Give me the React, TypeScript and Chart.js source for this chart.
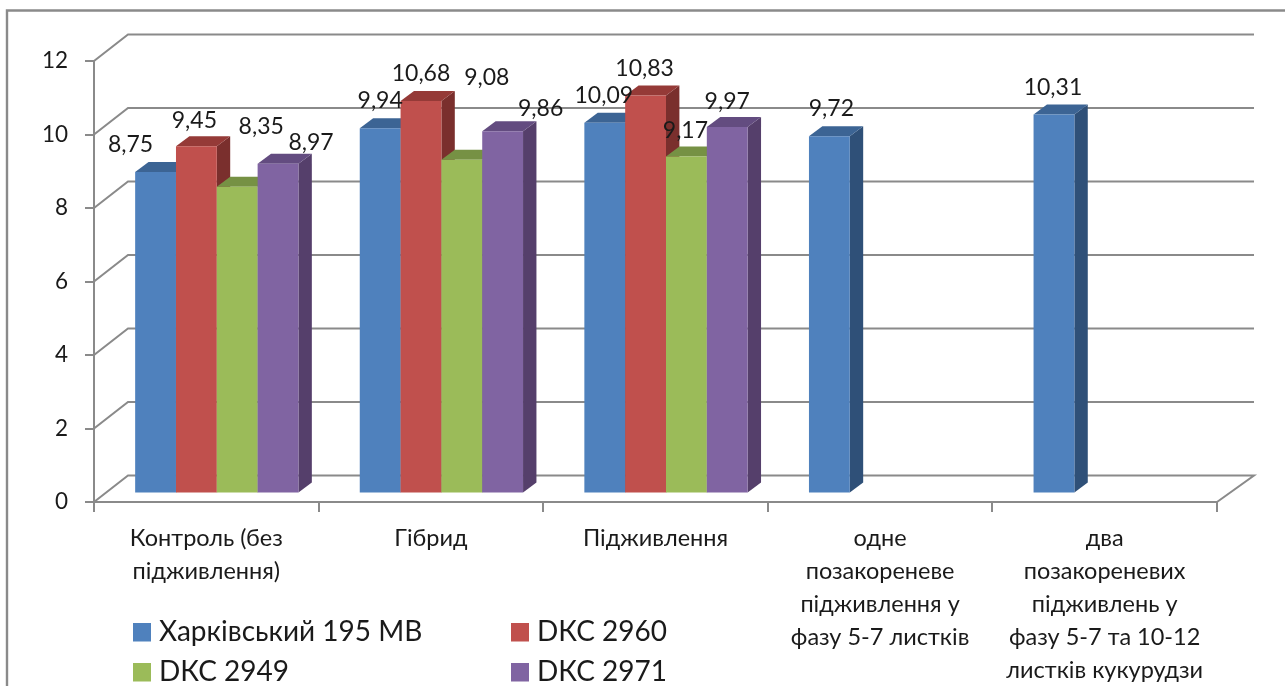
import React, { useEffect, useRef } from "react";
import { Chart, registerables } from "chart.js";

Chart.register(...registerables);

const categories: string[][] = [
  ["Контроль (без", "підживлення)"],
  ["Гібрид"],
  ["Підживлення"],
  ["одне", "позакореневе", "підживлення у", "фазу 5-7 листків"],
  ["два", "позакореневих", "підживлень у", "фазу 5-7 та 10-12", "листків кукурудзи"],
];
const kharkivskyi = [8.75, 9.94, 10.09, 9.72, 10.31];
const dkc2960 = [9.45, 10.68, 10.83, null, null];
const dkc2949 = [8.35, 9.08, 9.17, null, null];
const dkc2971 = [8.97, 9.86, 9.97, null, null];
const seriesNames = ["Харківський 195 МВ", "DКС 2960", "DКС 2949", "DКС 2971"];
const yTicks = [0, 2, 4, 6, 8, 10, 12];

const frontColors = ["#4f81bd", "#c0504d", "#9bbb59", "#8064a2"];
const topColors = ["#3c6494", "#953a37", "#769144", "#634c80"];
const sideColors = ["#2f5078", "#7a2f2d", "#5f7536", "#553f6b"];

// Where each data label sits relative to the centre of the top of its bar (as placed in the original).
const labelShift: (number[] | null)[][] = [
  [[-25, -27], [-2, -26], [24, -60], [33, -21]],
  [[0, -28], [0, -27], [25, -82], [38, -23]],
  [[-1, -27], [-1, -27], [-1, -26], [0, -26]],
  [[2, -28], null, null, null],
  [[-1, -27], null, null, null],
];

const FONT = "Lato, 'Open Sans', sans-serif";
const GRAY = "#8a8a8a";
const BAR_SHIFT = { x: 10.5, y: -8.5 };
const BAR_DEPTH = { x: 13.4, y: -10 };
const WALL = { x: 34, y: -26.5 };
const LEGEND_COLS = [133, 511];
const LEGEND_ROWS = [632, 672];

const scene3d = {
  id: "scene3d",
  beforeDraw(chart: any) {
    const { ctx } = chart;
    ctx.save();
    ctx.fillStyle = "#ffffff";
    ctx.fillRect(0, 0, chart.width, chart.height);
    ctx.strokeStyle = GRAY;
    ctx.lineWidth = 2.4;
    ctx.beginPath();
    ctx.moveTo(7, chart.height + 2);
    ctx.lineTo(7, 10.5);
    ctx.lineTo(chart.width + 2, 10.5);
    ctx.stroke();
    ctx.restore();
  },
  beforeDatasetsDraw(chart: any) {
    const { ctx, chartArea, scales } = chart;
    const y = scales.y;
    ctx.save();
    ctx.strokeStyle = GRAY;
    ctx.lineWidth = 2;
    for (const t of yTicks) {
      const py = y.getPixelForValue(t);
      ctx.beginPath();
      ctx.moveTo(chartArea.left, py);
      ctx.lineTo(chartArea.left + WALL.x, py + WALL.y);
      ctx.lineTo(chartArea.right + WALL.x + 3, py + WALL.y);
      if (t === 0) ctx.lineTo(chartArea.right, py);
      ctx.stroke();
    }
    ctx.translate(BAR_SHIFT.x, BAR_SHIFT.y);
    chart.getSortedVisibleDatasetMetas().forEach((meta: any) => {
      const ds = meta.index;
      meta.data.forEach((el: any, i: number) => {
        if (chart.data.datasets[ds].data[i] == null) return;
        const { x, y: top, base, width } = el.getProps(["x", "y", "base", "width"], true);
        const l = x - width / 2;
        const r = x + width / 2;
        ctx.fillStyle = sideColors[ds];
        ctx.beginPath();
        ctx.moveTo(r, top);
        ctx.lineTo(r + BAR_DEPTH.x, top + BAR_DEPTH.y);
        ctx.lineTo(r + BAR_DEPTH.x, base + BAR_DEPTH.y);
        ctx.lineTo(r, base);
        ctx.closePath();
        ctx.fill();
        ctx.fillStyle = topColors[ds];
        ctx.beginPath();
        ctx.moveTo(l, top);
        ctx.lineTo(l + BAR_DEPTH.x, top + BAR_DEPTH.y);
        ctx.lineTo(r + BAR_DEPTH.x, top + BAR_DEPTH.y);
        ctx.lineTo(r, top);
        ctx.closePath();
        ctx.fill();
      });
      meta.controller.draw();
    });
    ctx.restore();
    return false;
  },
  afterDraw(chart: any) {
    const { ctx } = chart;
    ctx.save();
    ctx.fillStyle = "#1a1a1a";
    ctx.font = `23px ${FONT}`;
    ctx.textAlign = "center";
    ctx.textBaseline = "middle";
    chart.getSortedVisibleDatasetMetas().forEach((meta: any) => {
      const ds = meta.index;
      meta.data.forEach((el: any, i: number) => {
        const v = chart.data.datasets[ds].data[i];
        const shift = labelShift[i][ds];
        if (v == null || !shift) return;
        const { x, y } = el.getProps(["x", "y"], true);
        ctx.fillText(
          v.toFixed(2).replace(".", ","),
          x + BAR_SHIFT.x + shift[0],
          y + BAR_SHIFT.y + shift[1]
        );
      });
    });
    // legend, two columns, filled row by row
    ctx.textAlign = "left";
    ctx.font = `28px ${FONT}`;
    chart.data.datasets.forEach((d: any, k: number) => {
      const col = LEGEND_COLS[k % 2];
      const row = LEGEND_ROWS[Math.floor(k / 2)];
      ctx.fillStyle = d.backgroundColor;
      ctx.fillRect(col, row - 9, 18, 18.5);
      ctx.fillStyle = "#1a1a1a";
      ctx.fillText(d.label, col + 26, row);
    });
    ctx.restore();
  },
};

export default function App() {
  const ref = useRef<HTMLCanvasElement>(null);
  useEffect(() => {
    const values = [kharkivskyi, dkc2960, dkc2949, dkc2971];
    const chart = new Chart(ref.current as HTMLCanvasElement, {
      type: "bar",
      data: {
        labels: categories as any,
        datasets: values.map((data, k) => ({
          label: seriesNames[k],
          data,
          backgroundColor: frontColors[k],
          categoryPercentage: 0.727,
          barPercentage: 1,
        })) as any,
      },
      options: {
        responsive: false,
        animation: false,
        layout: { autoPadding: false, padding: { left: 0, top: 61, right: 68, bottom: 0 } } as any,
        plugins: { legend: { display: false }, tooltip: { enabled: false }, title: { display: false } },
        scales: {
          x: {
            afterFit: (s: any) => { s.height = 184; },
            border: { color: GRAY, width: 2 },
            grid: { drawOnChartArea: false, drawTicks: true, tickLength: 10, color: GRAY, lineWidth: 2 },
            ticks: {
              autoSkip: false,
              maxRotation: 0,
              padding: 10,
              color: "#1a1a1a",
              font: { family: FONT, size: 23.5, lineHeight: 1.4 },
            },
          },
          y: {
            min: 0,
            max: 12,
            afterFit: (s: any) => { s.width = 94; },
            border: { color: GRAY, width: 2 },
            grid: { drawOnChartArea: false, drawTicks: true, tickLength: 9, color: GRAY, lineWidth: 2 },
            ticks: {
              stepSize: 2,
              padding: 17,
              color: "#1a1a1a",
              font: { family: FONT, size: 22.5 },
            },
          },
        },
      },
      plugins: [scene3d as any],
    });
    return () => chart.destroy();
  }, []);
  return (
    <canvas
      ref={ref}
      width={1285}
      height={686}
      style={{ position: "absolute", left: 0, top: 0, display: "block", filter: "blur(0.4px)" }}
    />
  );
}
